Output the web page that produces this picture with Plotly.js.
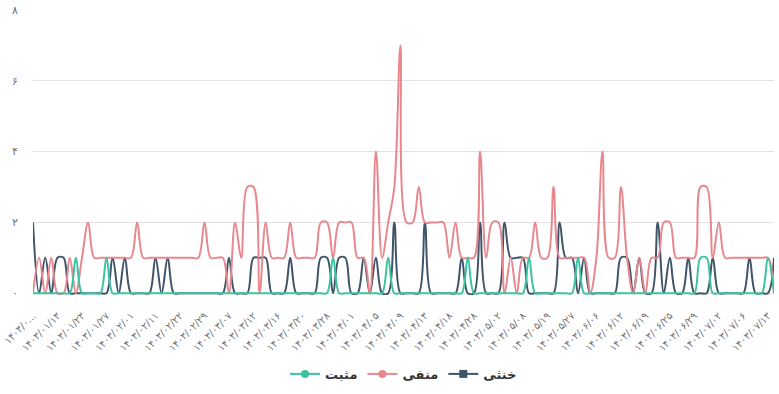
<!DOCTYPE html>
<html>
<head>
<meta charset="utf-8">
<script src="https://cdn.plot.ly/plotly-3.0.1.min.js"></script>
<style>
html,body{margin:0;padding:0;background:#fff;}
#chart{width:779px;height:394px;}
</style>
</head>
<body>
<div id="chart"></div>
<script>
// x positions are category indices; only every 4th category carries a visible label
var tickLabels = ["۱۴۰۳/۰...","۱۴۰۳/۰۱/۱۳","۱۴۰۳/۰۱/۲۳","۱۴۰۳/۰۱/۲۷","۱۴۰۳/۰۲/۰۱","۱۴۰۳/۰۲/۱۱","۱۴۰۳/۰۲/۲۲","۱۴۰۳/۰۲/۲۹","۱۴۰۳/۰۳/۰۷","۱۴۰۳/۰۳/۱۲","۱۴۰۳/۰۳/۱۶","۱۴۰۳/۰۳/۲۰","۱۴۰۳/۰۳/۲۸","۱۴۰۳/۰۴/۰۱","۱۴۰۳/۰۴/۰۵","۱۴۰۳/۰۴/۰۹","۱۴۰۳/۰۴/۱۳","۱۴۰۳/۰۴/۱۸","۱۴۰۳/۰۴/۲۸","۱۴۰۳/۰۵/۰۲","۱۴۰۳/۰۵/۰۸","۱۴۰۳/۰۵/۱۹","۱۴۰۳/۰۵/۲۷","۱۴۰۳/۰۶/۰۶","۱۴۰۳/۰۶/۱۲","۱۴۰۳/۰۶/۱۹","۱۴۰۳/۰۶/۲۵","۱۴۰۳/۰۶/۲۹","۱۴۰۳/۰۷/۰۲","۱۴۰۳/۰۷/۰۶","۱۴۰۳/۰۷/۱۳"];
var labelStep = 4;

var positive = [0,0,0,0,0,0,0,1,0,0, 0,0,1,0,0,0,0,0,0,0, 0,0,0,0,0,0,0,0,0,0, 0,0,0,0,0,0,0,0,0,0, 0,0,0,0,0,0,0,0,0,1, 0,0,0,0,0,0,0,0,1,0, 0,0,0,0,0,0,0,0,0,0, 0,1,0,0,0,0,0,0,0,0, 0,1,0,0,0,0,0,0,0,1, 0,0,0,0,0,0,0,0,0,0, 0,0,0,0,0,0,0,0,0,1, 1,0,0,0,0,0,0,0,0,0, 1,0];
var negative = [0,1,0,1,0,0,1,0,1,2, 1,1,1,1,1,1,1,2,1,1, 1,1,1,1,1,1,1,1,2,1, 1,1,0,2,1,3,3,0,2,1, 1,1,2,1,1,1,1,2,2,1, 2,2,2,1,1,0,4,1,2,3, 7,2,2,3,2,2,2,2,1,2, 1,1,1,4,1,2,2,0,1,0, 1,1,2,1,1,3,1,1,1,1, 1,0,1,4,1,1,3,1,0,1, 0,1,1,2,2,1,1,1,1,3, 3,1,2,1,1,1,1,1,1,1, 1,0];
var neutral = [2,0,1,0,1,1,0,0,0,0, 0,0,0,1,0,1,0,0,0,0, 1,0,1,0,0,0,0,0,0,0, 0,0,1,0,0,0,1,1,1,0, 0,0,1,0,0,0,0,1,1,0, 1,1,0,0,1,0,1,0,0,2, 0,0,0,0,2,0,0,0,0,0, 1,0,0,2,0,0,0,2,1,1, 1,0,0,0,0,0,2,1,1,0, 1,0,0,0,0,0,1,1,0,1, 0,0,2,0,1,0,0,1,0,0, 0,1,0,0,0,0,0,1,0,0, 0,1];

var seriesNames = ["مثبت","منفی","خنثی"];
var seriesColors = ["#3cc3a0","#e9878f","#3f5468"];
var legendSymbols = ["circle","circle","square"];

var xs = positive.map(function(_, i){ return i; });
var tickVals = tickLabels.map(function(_, k){ return k * labelStep; });
var allSeries = [positive, negative, neutral];

var traces = [];
[2,1,0].forEach(function(s){
  traces.push({
    x: xs, y: allSeries[s], type: 'scatter', mode: 'lines',
    line: {color: seriesColors[s], width: 2, shape: 'spline', smoothing: 1},
    showlegend: false, hoverinfo: 'skip'
  });
});
[0,1,2].forEach(function(s){
  traces.push({
    x: [null], y: [null], type: 'scatter', mode: 'lines+markers', name: seriesNames[s],
    line: {color: seriesColors[s], width: 2},
    marker: {color: seriesColors[s], size: 8, symbol: legendSymbols[s]},
    showlegend: true
  });
});

var layout = {
  width: 779, height: 394,
  margin: {l: 33, r: 5, t: 10, b: 99},
  paper_bgcolor: '#fff', plot_bgcolor: '#fff',
  font: {family: 'DejaVu Sans, sans-serif', color: '#6e7079'},
  showlegend: true,
  legend: {orientation: 'h', x: 0.5, xanchor: 'center', y: -0.277, yanchor: 'middle',
           font: {family: 'DejaVu Sans', size: 13, color: '#333', weight: 'bold'},
           itemwidth: 30, traceorder: 'normal'},
  xaxis: {
    range: [0, xs.length - 1], tickmode: 'array', tickvals: tickVals, ticktext: tickLabels,
    tickangle: -45, tickfont: {size: 10, color: '#6e7079'}, showgrid: false, zeroline: false,
    showline: false, ticks: 'outside', ticklen: 10, tickcolor: 'rgba(0,0,0,0)'
  },
  yaxis: {
    range: [-0.05, 8], tickmode: 'array', tickvals: [0,2,4,6,8], ticktext: ['۰','۲','۴','۶','۸'],
    tickfont: {size: 11, color: '#6e7079'}, gridcolor: '#e3e3e3', gridwidth: 1, zeroline: false,
    showline: false, ticks: 'outside', ticklen: 12, tickcolor: 'rgba(0,0,0,0)'
  }
};

Plotly.newPlot('chart', traces, layout, {displayModeBar: false, staticPlot: true});
</script>
</body>
</html>
